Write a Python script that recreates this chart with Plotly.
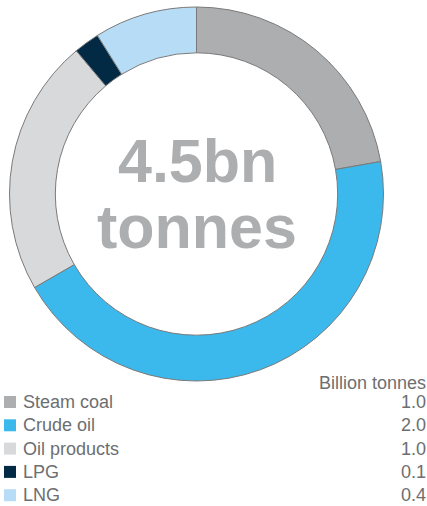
import plotly.graph_objects as go

# Seaborne trade volumes by commodity
categories = ["Steam coal", "Crude oil", "Oil products", "LPG", "LNG"]
values = [1.0, 2.0, 1.0, 0.1, 0.4]
colors = ["#adaeb0", "#3cb9ec", "#d8d9db", "#022a44", "#b6dcf6"]
total_label = ["4.5bn", "tonnes"]
unit_label = "Billion tonnes"

W, H = 427, 506
TEXT_GREY = "#6d6e71"
FONT = "Liberation Sans, Arial, sans-serif"
LEG_SIZE = 18


def py(px):
    """Convert a pixel row measured from the top into paper y."""
    return 1 - px / H


fig = go.Figure()
fig.add_trace(go.Pie(
    labels=categories,
    values=values,
    marker=dict(colors=colors, line=dict(color="#7a7a7a", width=1)),
    hole=0.755,
    sort=False,
    direction="clockwise",
    rotation=0,
    textinfo="none",
    hoverinfo="label+value",
    showlegend=False,
    domain=dict(x=[8 / W, 385 / W], y=[py(381), py(7)]),
))

# Centre label
for txt, ypx in zip(total_label, [161, 227]):
    fig.add_annotation(
        text=f"<b>{txt}</b>", x=197 / W, y=py(ypx), xref="paper", yref="paper",
        xanchor="center", yanchor="middle", showarrow=False,
        font=dict(family=FONT, size=61, color="#adaeb0"),
    )

# Legend with values column
fig.add_annotation(
    text=unit_label, x=1, y=py(382.5), xref="paper", yref="paper",
    xanchor="right", yanchor="middle", showarrow=False, borderpad=0,
    font=dict(family=FONT, size=LEG_SIZE, color=TEXT_GREY),
)
row0, step = 402, 23.3
for i, (name, val, col) in enumerate(zip(categories, values, colors)):
    yc = row0 + i * step
    fig.add_shape(
        type="rect", xref="paper", yref="paper",
        x0=4 / W, x1=16 / W, y0=py(yc + 6), y1=py(yc - 6),
        fillcolor=col, line=dict(width=0),
    )
    fig.add_annotation(
        text=name, x=22 / W, y=py(yc), xref="paper", yref="paper",
        xanchor="left", yanchor="middle", showarrow=False, borderpad=0,
        font=dict(family=FONT, size=LEG_SIZE, color=TEXT_GREY),
    )
    fig.add_annotation(
        text=f"{val:.1f}", x=1, y=py(yc), xref="paper", yref="paper",
        xanchor="right", yanchor="middle", showarrow=False, borderpad=0,
        font=dict(family=FONT, size=LEG_SIZE, color=TEXT_GREY),
    )

fig.update_layout(
    width=W, height=H,
    margin=dict(l=0, r=0, t=0, b=0),
    paper_bgcolor="white", plot_bgcolor="white",
)

fig.write_html("out.html")
